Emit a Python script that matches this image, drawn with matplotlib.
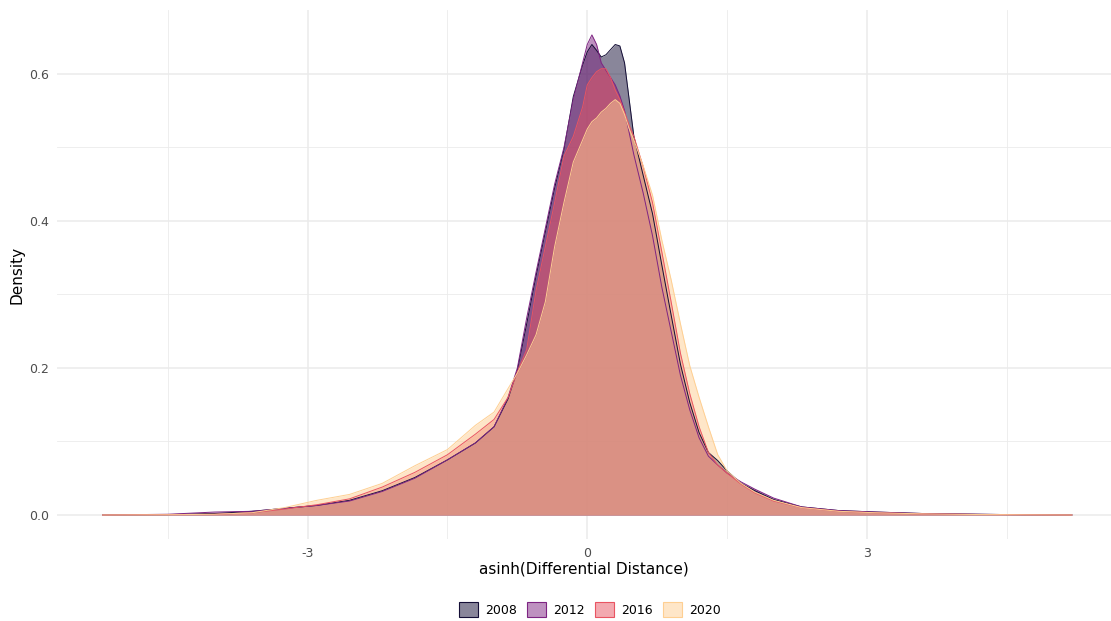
import numpy as np
import matplotlib.pyplot as plt
from matplotlib.patches import Patch

plt.rcParams["axes.unicode_minus"] = False

# density curves (x = asinh(differential distance))
x = [-5.2, -4.5, -4.0, -3.6, -3.25, -2.9, -2.55, -2.2, -1.85, -1.5, -1.2, -1.0,
     -0.85, -0.75, -0.65, -0.55, -0.45, -0.35, -0.25, -0.15, -0.05, 0.0, 0.05,
     0.1, 0.15, 0.2, 0.25, 0.3, 0.35, 0.4, 0.45, 0.5, 0.6, 0.7, 0.8, 0.9, 1.0,
     1.1, 1.2, 1.3, 1.4, 1.5, 1.65, 1.8, 2.0, 2.3, 2.7, 3.1, 3.6, 4.2, 4.7, 5.2]

d2008 = [0.0, 0.0005, 0.002, 0.005, 0.009, 0.013, 0.020, 0.033, 0.051, 0.075, 0.098, 0.12,
         0.158, 0.197, 0.26, 0.325, 0.385, 0.445, 0.497, 0.569, 0.612, 0.63, 0.64,
         0.632, 0.623, 0.626, 0.633, 0.640, 0.638, 0.615, 0.565, 0.515, 0.462, 0.41, 0.34, 0.272, 0.205,
         0.153, 0.112, 0.085, 0.074, 0.060, 0.043, 0.033, 0.021, 0.011, 0.006, 0.004, 0.002, 0.001, 0.0003, 0.0]

d2012 = [0.0, 0.001, 0.004, 0.005, 0.009, 0.013, 0.019, 0.032, 0.050, 0.075, 0.098, 0.12,
         0.16, 0.20, 0.268, 0.33, 0.39, 0.45, 0.50, 0.565, 0.615, 0.64, 0.653,
         0.64, 0.615, 0.605, 0.595, 0.585, 0.57, 0.55, 0.52, 0.49, 0.438, 0.38, 0.31, 0.25, 0.19,
         0.143, 0.105, 0.08, 0.068, 0.057, 0.045, 0.035, 0.023, 0.011, 0.006, 0.004, 0.002, 0.001, 0.0003, 0.0]

d2016 = [0.0, 0.0005, 0.001, 0.003, 0.008, 0.014, 0.022, 0.038, 0.058, 0.082, 0.11, 0.13,
         0.16, 0.195, 0.225, 0.305, 0.365, 0.425, 0.488, 0.515, 0.555, 0.585, 0.595,
         0.603, 0.607, 0.607, 0.595, 0.578, 0.565, 0.548, 0.53, 0.515, 0.474, 0.425, 0.358, 0.29, 0.22,
         0.165, 0.12, 0.085, 0.068, 0.057, 0.042, 0.03, 0.019, 0.010, 0.005, 0.003, 0.0015, 0.0007, 0.0003, 0.0]

d2020 = [0.0, 0.0003, 0.001, 0.003, 0.010, 0.020, 0.028, 0.043, 0.067, 0.089, 0.122, 0.14,
         0.172, 0.193, 0.218, 0.245, 0.29, 0.365, 0.425, 0.48, 0.51, 0.525, 0.535,
         0.54, 0.548, 0.553, 0.56, 0.565, 0.56, 0.545, 0.525, 0.51, 0.475, 0.435, 0.374, 0.32, 0.26,
         0.203, 0.16, 0.12, 0.082, 0.06, 0.043, 0.031, 0.02, 0.01, 0.005, 0.003, 0.0015, 0.0006, 0.0002, 0.0]

years = ["2008", "2012", "2016", "2020"]
series = [d2008, d2012, d2016, d2020]
colors = plt.cm.magma(np.linspace(0.1, 0.9, 4))

fig = plt.figure(figsize=(11.11, 6.21), dpi=100)
ax = fig.add_axes([0.0513, 0.132, 0.9487, 0.852])

for yr, d, c in zip(years, series, colors):
    ax.fill_between(x, d, color=c, alpha=0.5, linewidth=0)
    ax.plot(x, d, color=c, linewidth=0.7)

ax.set_xlim(-5.69, 5.62)
ax.set_ylim(-0.0327, 0.687)
ax.set_xticks([-3, 0, 3])
ax.set_xticks([-4.5, -1.5, 1.5, 4.5], minor=True)
ax.set_yticks([0.0, 0.2, 0.4, 0.6])
ax.set_yticks([0.1, 0.3, 0.5], minor=True)
ax.set_yticklabels(["0.0", "0.2", "0.4", "0.6"])
ax.grid(True, which="major", color="#EBEBEB", linewidth=1.1)
ax.grid(True, which="minor", color="#EBEBEB", linewidth=0.6)
ax.set_axisbelow(True)
ax.tick_params(which="both", length=0, labelsize=9, labelcolor="#4D4D4D", pad=6)
for s in ax.spines.values():
    s.set_visible(False)

ax.set_xlabel("asinh(Differential Distance)", fontsize=11, labelpad=1)
ax.set_ylabel("Density", fontsize=11, labelpad=3)

handles = [Patch(facecolor=(*c[:3], 0.5), edgecolor=c, linewidth=0.8, label=yr)
           for yr, c in zip(years, colors)]
fig.legend(handles=handles, loc="center", bbox_to_anchor=(0.531, 0.018), ncol=4,
           frameon=False, fontsize=9, handlelength=1.5, handleheight=1.5,
           columnspacing=0.8, handletextpad=0.6)

fig.savefig("out.png", dpi=100)
